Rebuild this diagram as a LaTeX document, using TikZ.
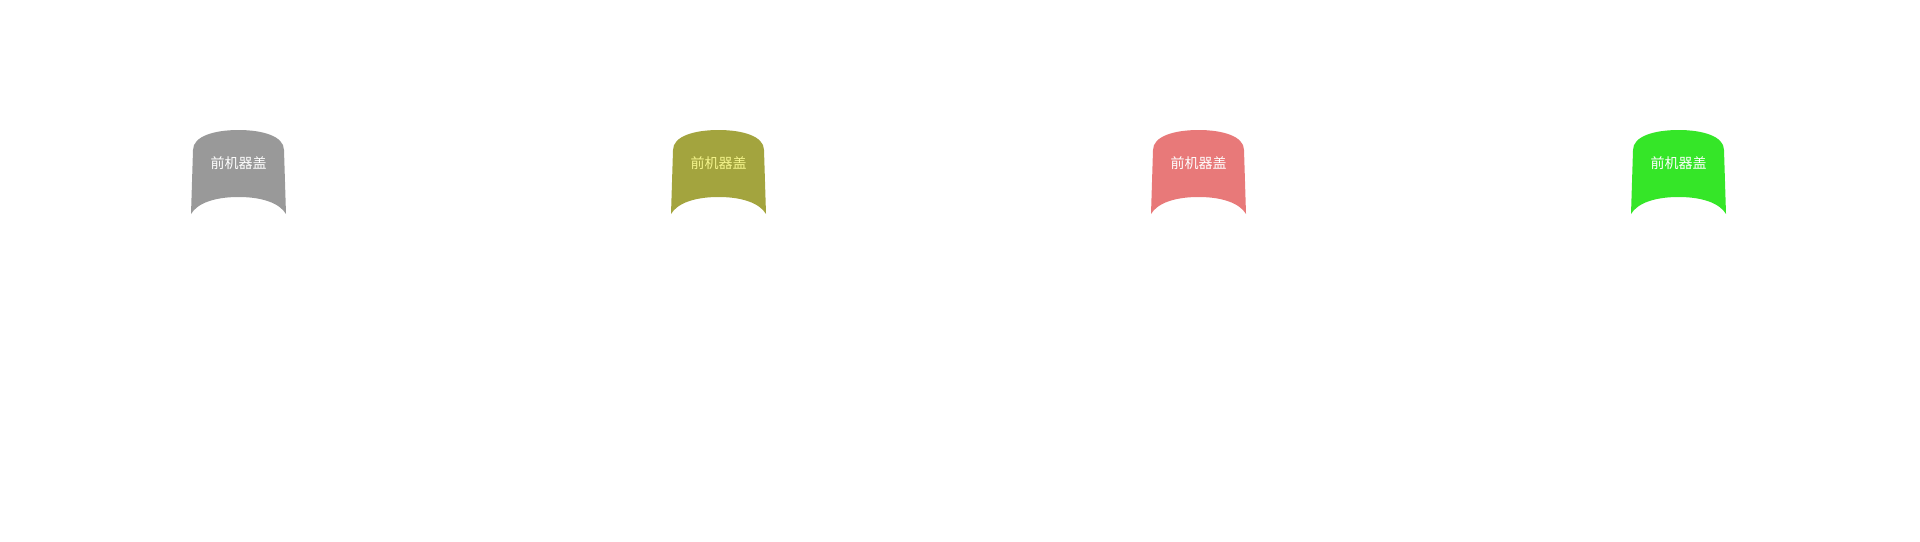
\documentclass[tikz,border=0pt]{standalone}
\usepackage{fontspec}
\newfontfamily\cjk{Noto Sans CJK SC}
\definecolor{coverGray}{RGB}{153,153,153}
\definecolor{coverOlive}{RGB}{163,164,62}
\definecolor{coverRed}{RGB}{232,121,121}
\definecolor{coverGreen}{RGB}{53,230,40}
\definecolor{labelYellow}{RGB}{245,245,140}

\begin{document}
\begin{tikzpicture}[x=0.75pt,y=-0.75pt,
    coverlabel/.style={font=\cjk\fontsize{10.5pt}{12pt}\selectfont, inner sep=0pt}]
\useasboundingbox (0,0) rectangle (1920,542);
% four front covers, one per colour
\foreach \cx/\fc/\tc/\nm in {238.5/coverGray/white/grayCover,
    718.5/coverOlive/labelYellow/oliveCover,
    1198.5/coverRed/white/redCover,
    1678.5/coverGreen/white/greenCover} {
  \fill[\fc, shift={(\cx,0)}]
    (-47.5,214) -- (-45.5,150)
    .. controls (-45.5,136) and (-23.5,130) .. (0,130)
    .. controls (23.5,130) and (45.5,136) .. (45.5,150)
    -- (47.5,214)
    .. controls (41,203) and (23.5,197) .. (0,197)
    .. controls (-23.5,197) and (-41,203) .. (-47.5,214) -- cycle;
  \node[coverlabel, text=\tc] (\nm) at (\cx,163) {前机器盖};
}
\end{tikzpicture}
\end{document}
